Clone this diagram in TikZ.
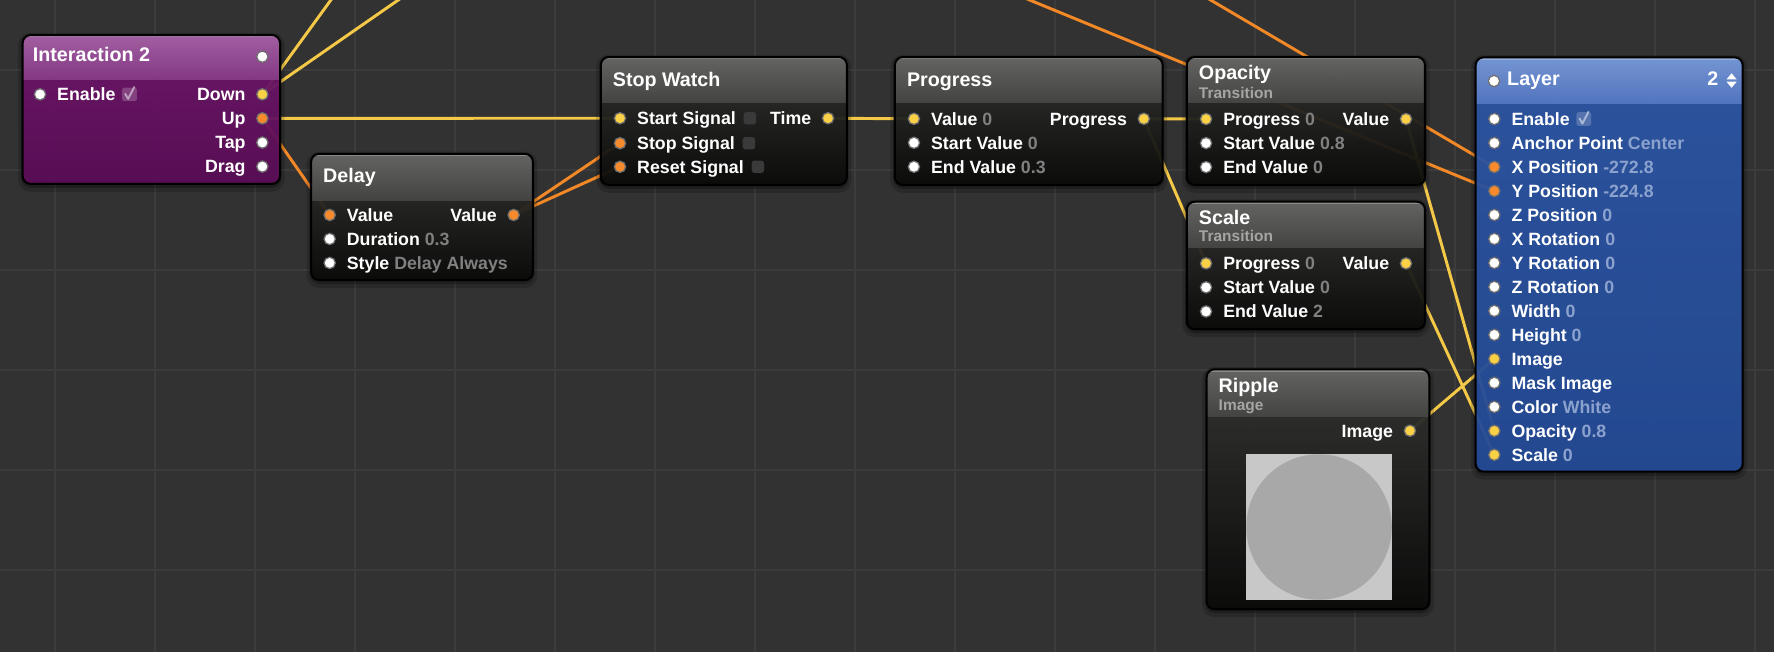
\documentclass[tikz,border=0pt]{standalone}
\usepackage{fontspec}
\setmainfont{Liberation Sans}
\usetikzlibrary{calc}
\pgfdeclarelayer{gridlayer}
\pgfdeclarelayer{wirelayer}
\pgfsetlayers{gridlayer,wirelayer,main}
\definecolor{bgc}{RGB}{50,50,50}
\definecolor{gridc}{RGB}{60,60,60}
\definecolor{wireYc}{RGB}{245,201,72}
\definecolor{wireOc}{RGB}{242,137,38}
\definecolor{portYc}{RGB}{250,208,70}
\definecolor{portOc}{RGB}{246,138,44}
\definecolor{portRing}{RGB}{112,112,112}
\definecolor{hdGrayTop}{RGB}{104,104,102}
\definecolor{hdGrayBot}{RGB}{70,70,68}
\definecolor{bdGrayTop}{RGB}{54,55,52}
\definecolor{bdGrayBot}{RGB}{10,11,9}
\definecolor{hdPurTop}{RGB}{166,102,166}
\definecolor{hdPurBot}{RGB}{134,58,134}
\definecolor{bdPurTop}{RGB}{114,24,110}
\definecolor{bdPurBot}{RGB}{92,12,88}
\definecolor{hdBluTop}{RGB}{122,154,214}
\definecolor{hdBluBot}{RGB}{86,120,194}
\definecolor{bdBluTop}{RGB}{46,88,168}
\definecolor{bdBluBot}{RGB}{36,76,154}
\definecolor{valGray}{RGB}{128,128,128}
\definecolor{valBlue}{RGB}{140,162,206}
\definecolor{subGray}{RGB}{165,165,165}
\definecolor{chkDark}{RGB}{58,58,58}
\definecolor{prevLight}{RGB}{200,200,200}
\definecolor{prevDark}{RGB}{168,168,168}
\newcommand\fRow{\fontsize{15.7}{18}\selectfont\bfseries}
\newcommand\fTitle{\fontsize{17.4}{20}\selectfont\bfseries}
\newcommand\fSub{\fontsize{13.7}{16}\selectfont\bfseries}
\newcommand\vg[1]{\textcolor{valGray}{#1}}
\newcommand\vb[1]{\textcolor{valBlue}{#1}}
% #1 name #2 x1 #3 y1 #4 x2 #5 y2 #6 header bottom #7 header style #8 body style
\newcommand\qcnode[8]{%
  \fill[black, opacity=0.16, rounded corners=11pt] ({#2-4},{#3-2}) rectangle ({#4+4},{#5+7});
  \fill[black, opacity=0.25, rounded corners=9pt] ({#2-1.5},{#3}) rectangle ({#4+1.5},{#5+3.5});
  \node[qcframe, #8, anchor=north west, minimum width={#4-#2}, minimum height={#5-#3}] (#1) at (#2,#3) {};
  \begin{scope}
    \clip[rounded corners=7pt] (#2,#3) rectangle (#4,#5);
    \shade[#7, fill opacity=0.93] (#2,#3) rectangle (#4,#6);
    \fill[white, opacity=0.25] (#2,#3) rectangle (#4,{#3+2});
  \end{scope}
  \draw[black, line width=1.8pt, rounded corners=7pt] (#2,#3) rectangle (#4,#5);
}
\newcommand\inport[5]{\node[#4] (#1) at (#2,#3) {};
  \node[lblL] (#1-l) at ({#2+15},{#3+5.6}) {#5};}
\newcommand\outport[5]{\node[#4] (#1) at (#2,#3) {};
  \node[lblR] (#1-l) at ({#2-14.7},{#3+5.6}) {#5};}
\newcommand\ticked[2]{% #1 new name, #2 port name
  \node[tickbox, anchor=west] (#1) at ($(#2-l.east |- #2)+(5.5,0)$) {};
  \draw[white, opacity=0.5, line width=1.7pt, line cap=round, line join=round]
    ($(#1.center)+(-3.8,-0.5)$) -- ($(#1.center)+(-1.2,4)$) -- ($(#1.center)+(4.2,-6.5)$);}
\newcommand\darkchk[2]{\node[dchk, anchor=west] (#1) at ($(#2-l.east |- #2)+(6.5,0)$) {};}
\begin{document}
\begin{tikzpicture}[x=1pt,y=-1pt,
  qcframe/.style={rectangle, rounded corners=7pt, inner sep=0pt, outer sep=0pt, fill opacity=0.92},
  grayhead/.style={top color=hdGrayTop, bottom color=hdGrayBot},
  graybody/.style={top color=bdGrayTop, bottom color=bdGrayBot},
  purhead/.style={top color=hdPurTop, bottom color=hdPurBot},
  purbody/.style={top color=bdPurTop, bottom color=bdPurBot},
  bluhead/.style={top color=hdBluTop, bottom color=hdBluBot},
  blubody/.style={top color=bdBluTop, bottom color=bdBluBot},
  wport/.style={circle, inner sep=0pt, minimum size=10pt, draw=portRing, line width=1.1pt, fill=white},
  yport/.style={wport, fill=portYc},
  oport/.style={wport, fill=portOc},
  lblL/.style={anchor=base west, inner sep=0pt, text=white, font=\fRow},
  lblR/.style={anchor=base east, inner sep=0pt, text=white, font=\fRow},
  ttl/.style={anchor=base west, inner sep=0pt, text=white, font=\fTitle},
  subttl/.style={anchor=base west, inner sep=0pt, text=subGray, font=\fSub},
  wirey/.style={draw=wireYc, line width=2.6pt, line cap=round},
  wireo/.style={draw=wireOc, line width=2.6pt, line cap=round},
  dchk/.style={rectangle, rounded corners=2.5pt, minimum width=11pt, minimum height=11pt, inner sep=0pt, fill=chkDark},
  tickbox/.style={rectangle, rounded corners=2pt, minimum width=13pt, minimum height=12pt, inner sep=0pt, fill=white, fill opacity=0.2},
  gridline/.style={draw=gridc, line width=1pt}
]
\useasboundingbox (0,0) rectangle (1568,576);
\begin{pgfonlayer}{gridlayer}
  \fill[bgc] (0,0) rectangle (1568,576);
  \foreach \i in {0,...,17} \draw[gridline] ({48.6+88.39*\i},0) -- ++(0,576);
  \foreach \j in {0,...,6} \draw[gridline] (0,{61.9+88.39*\j}) -- ++(1568,0);
\end{pgfonlayer}

% ---------------- Interaction 2
\qcnode{int}{20}{31}{247.5}{162.5}{70.7}{purhead}{purbody}
\node[ttl] (int-t) at (28.9,54.5) {Interaction 2};
\node[wport] (int-h) at (231.9,50.1) {};
\inport{int-en}{35.4}{83.4}{wport}{Enable}
\ticked{int-ck}{int-en}
\outport{int-down}{231.9}{83.4}{yport}{Down}
\outport{int-up}{231.9}{104.6}{oport}{Up}
\outport{int-tap}{231.9}{126}{wport}{Tap}
\outport{int-drag}{231.9}{147.2}{wport}{Drag}

% ---------------- Delay
\qcnode{dl}{275}{136}{471}{247.5}{177}{grayhead}{graybody}
\node[ttl] (dl-t) at (285.5,161.5) {Delay};
\inport{dl-in}{291.4}{190}{oport}{Value}
\inport{dl-dur}{291.4}{211.2}{wport}{Duration \vg{0.3}}
\inport{dl-sty}{291.4}{232.4}{wport}{Style \vg{Delay Always}}
\outport{dl-out}{454}{190}{oport}{Value}

% ---------------- Stop Watch
\qcnode{sw}{531}{50.4}{748.5}{163.5}{91}{grayhead}{graybody}
\node[ttl] (sw-t) at (541.5,76.4) {Stop Watch};
\inport{sw-start}{548}{104.5}{yport}{Start Signal}
\inport{sw-stop}{548}{126.6}{oport}{Stop Signal}
\inport{sw-reset}{548}{147.4}{oport}{Reset Signal}
\outport{sw-time}{731.9}{104.5}{yport}{Time}
\darkchk{sw-c1}{sw-start}
\darkchk{sw-c2}{sw-stop}
\darkchk{sw-c3}{sw-reset}

% ---------------- Progress
\qcnode{pg}{791}{50.4}{1027.6}{163.5}{91}{grayhead}{graybody}
\node[ttl] (pg-t) at (801.5,76.4) {Progress};
\inport{pg-val}{807.8}{105}{yport}{Value \vg{0}}
\inport{pg-start}{807.8}{126.2}{wport}{Start Value \vg{0}}
\inport{pg-end}{807.8}{147.4}{wport}{End Value \vg{0.3}}
\outport{pg-out}{1011}{105}{yport}{Progress}

% ---------------- Opacity Transition
\qcnode{op}{1049}{50.4}{1259.5}{163.5}{91}{grayhead}{graybody}
\node[ttl] (op-t) at (1059.5,70.7) {Opacity};
\node[subttl] (op-s) at (1059.5,86.9) {Transition};
\inport{op-prog}{1066}{105.2}{yport}{Progress \vg{0}}
\inport{op-start}{1066}{126.5}{wport}{Start Value \vg{0.8}}
\inport{op-end}{1066}{147.7}{wport}{End Value \vg{0}}
\outport{op-out}{1242.7}{105.2}{yport}{Value}

% ---------------- Scale Transition
\qcnode{sc}{1049}{178.3}{1259.5}{291}{219}{grayhead}{graybody}
\node[ttl] (sc-t) at (1059.5,198) {Scale};
\node[subttl] (sc-s) at (1059.5,213.8) {Transition};
\inport{sc-prog}{1066}{232.8}{yport}{Progress \vg{0}}
\inport{sc-start}{1066}{254}{wport}{Start Value \vg{0}}
\inport{sc-end}{1066}{275.3}{wport}{End Value \vg{2}}
\outport{sc-out}{1242.7}{232.8}{yport}{Value}

% ---------------- Ripple Image
\qcnode{rp}{1066.5}{326.4}{1263.3}{538.5}{367.7}{grayhead}{graybody}
\node[ttl] (rp-t) at (1077,346.8) {Ripple};
\node[subttl] (rp-s) at (1077,362.4) {Image};
\outport{rp-out}{1246.2}{380.7}{yport}{Image}
\fill[prevLight] (1101.3,401.3) rectangle (1230.4,530.3);
\fill[prevDark] (1165.85,465.8) circle (64.3);

% ---------------- Layer
\qcnode{ly}{1304.3}{50.7}{1540.3}{416.9}{91.3}{bluhead}{blubody}
\node[wport] (ly-h) at (1320.5,71.6) {};
\node[ttl] (ly-t) at (1332,76) {Layer};
\node[ttl] (ly-n) at (1509,76) {2};
\fill[white] (1526,70.2) -- (1530.5,64.8) -- (1535,70.2) -- cycle;
\fill[white] (1526,72.2) -- (1530.5,77.6) -- (1535,72.2) -- cycle;
\inport{ly-en}{1320.8}{105.2}{wport}{Enable}
\ticked{ly-ck}{ly-en}
\inport{ly-anc}{1320.8}{126.4}{wport}{Anchor Point \vb{Center}}
\inport{ly-xp}{1320.8}{147.6}{oport}{X Position \vb{-272.8}}
\inport{ly-yp}{1320.8}{168.8}{oport}{Y Position \vb{-224.8}}
\inport{ly-zp}{1320.8}{190}{wport}{Z Position \vb{0}}
\inport{ly-xr}{1320.8}{211.2}{wport}{X Rotation \vb{0}}
\inport{ly-yr}{1320.8}{232.4}{wport}{Y Rotation \vb{0}}
\inport{ly-zr}{1320.8}{253.6}{wport}{Z Rotation \vb{0}}
\inport{ly-w}{1320.8}{274.8}{wport}{Width \vb{0}}
\inport{ly-h2}{1320.8}{296}{wport}{Height \vb{0}}
\inport{ly-img}{1320.8}{317.2}{yport}{Image}
\inport{ly-mask}{1320.8}{338.4}{wport}{Mask Image}
\inport{ly-col}{1320.8}{359.6}{wport}{Color \vb{White}}
\inport{ly-op}{1320.8}{380.8}{yport}{Opacity \vb{0.8}}
\inport{ly-sc}{1320.8}{402}{yport}{Scale \vb{0}}

% ---------------- off-picture ends
\coordinate (offD1) at (299.7,-10);
\coordinate (offD2) at (366.4,-10);
\coordinate (offX) at (1053,-10);
\coordinate (offY) at (885.7,-10);

% ---------------- wires
\begin{pgfonlayer}{wirelayer}
  \draw[wirey] (int-down.center) -- (offD1);
  \draw[wirey] (int-down.center) -- (offD2);
  \draw[wirey] (int-up.center) -- (sw-start.center);
  \draw[wireo] (int-up.center) -- (dl-in.center);
  \draw[wireo] (dl-out.center) -- (sw-stop.center);
  \draw[wireo] (dl-out.center) -- (sw-reset.center);
  \draw[wirey] (sw-time.center) -- (pg-val.center);
  \draw[wirey] (pg-out.center) -- (op-prog.center);
  \draw[wirey] (pg-out.center) -- (sc-prog.center);
  \draw[wirey] (op-out.center) -- (ly-op.center);
  \draw[wirey] (sc-out.center) -- (ly-sc.center);
  \draw[wirey] (rp-out.center) -- (ly-img.center);
  \draw[wireo] (offX) -- (ly-xp.center);
  \draw[wireo] (offY) -- (ly-yp.center);
\end{pgfonlayer}
\end{tikzpicture}
\end{document}
